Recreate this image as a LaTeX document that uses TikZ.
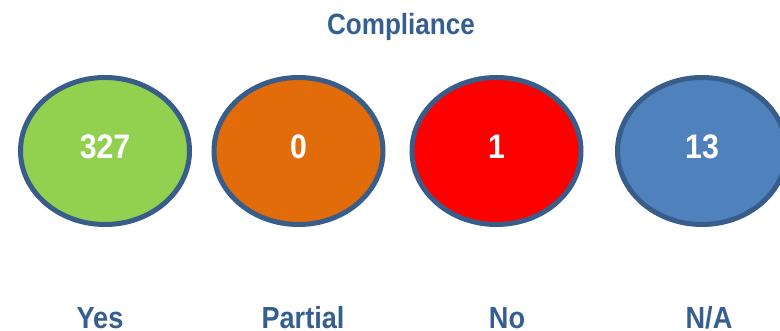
\documentclass[tikz,border=0pt]{standalone}
\usepackage{fontspec}
\setmainfont{Liberation Sans}[FakeStretch=0.89]
\usetikzlibrary{shapes.geometric}
\definecolor{cgreen}{HTML}{92D050}
\definecolor{corange}{HTML}{E36C0A}
\definecolor{cred}{HTML}{FF0000}
\definecolor{cblue}{HTML}{4F81BD}
\definecolor{cborder}{HTML}{385D8A}
\definecolor{ctext}{HTML}{365F91}
\tikzset{
  bubble/.style={ellipse, draw=cborder, line width=5pt, minimum width=169pt, minimum height=147pt, inner sep=0pt},
  num/.style={text=white, font=\fontsize{34}{36}\selectfont\bfseries},
  cat/.style={anchor=base, text=ctext, font=\fontsize{30.5}{33}\selectfont\bfseries, inner sep=0pt},
}
\begin{document}
\begin{tikzpicture}[x=1pt,y=1pt]
\useasboundingbox (0,0) rectangle (780,331);
\node[anchor=base, text=ctext, font=\fontsize{29.3}{32}\selectfont\bfseries, inner sep=0pt] (title) at (401,296) {Compliance};
\node[bubble, fill=cgreen] (yes) at (105,180) {};
\node[bubble, fill=corange] (partial) at (298.5,180) {};
\node[bubble, fill=cred] (no) at (496.5,180) {};
\node[bubble, fill=cblue] (na) at (702,180) {};
\node[num] (nyes) at ([yshift=4pt]yes.center) {327};
\node[num] (npartial) at ([yshift=4pt]partial.center) {0};
\node[num] (nno) at ([yshift=4pt]no.center) {1};
\node[num] (nna) at ([yshift=4pt]na.center) {13};
\node[cat] (lyes) at (100,2) {Yes};
\node[cat] (lpartial) at (303,2) {Partial};
\node[cat] (lno) at (507,2) {No};
\node[cat] (lna) at (709,2) {N/A};
\end{tikzpicture}
\end{document}
